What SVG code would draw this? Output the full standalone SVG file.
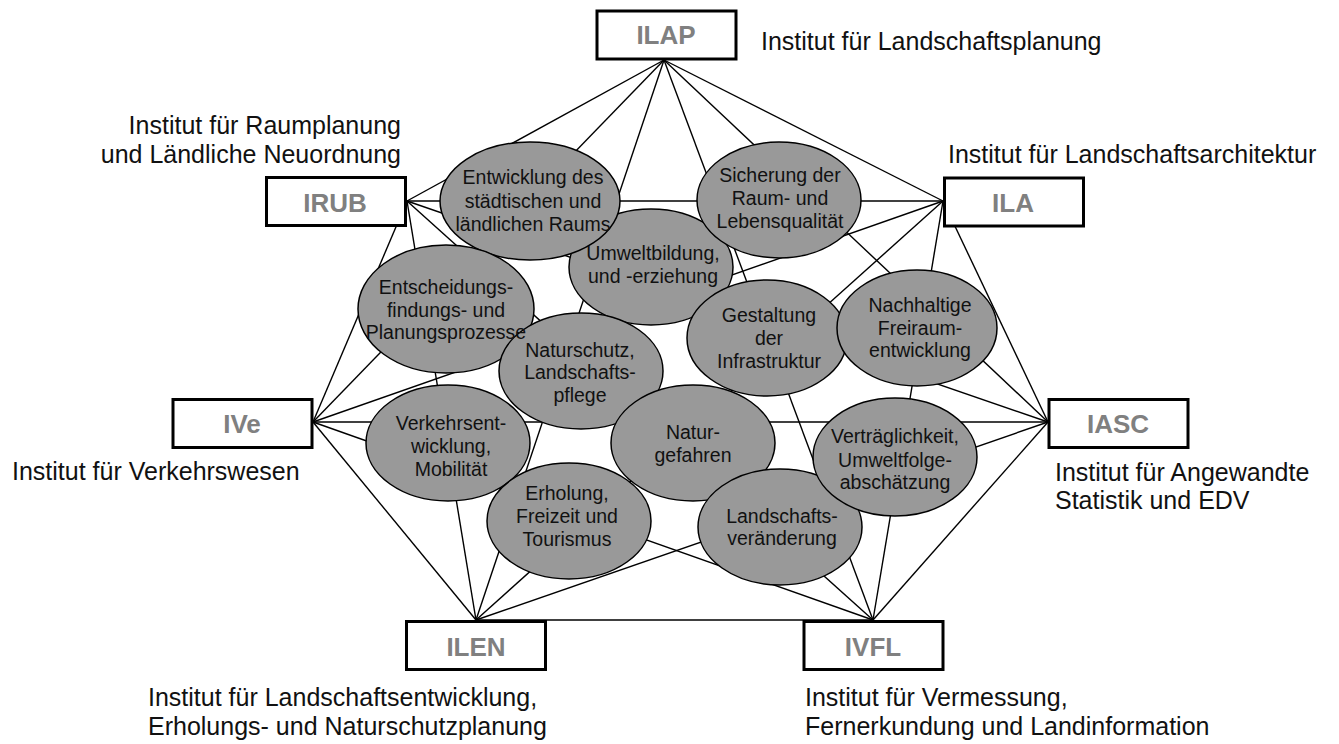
<svg xmlns="http://www.w3.org/2000/svg" width="1339" height="744" viewBox="0 0 1339 744">
<style>
.bg{fill:#ffffff}
.ln{stroke:#000;stroke-width:1.4;fill:none}
.el{fill:#999999;stroke:#000;stroke-width:1.5}
.et{font-family:"Liberation Sans",Arial,sans-serif;font-size:19.5px;fill:#111;text-anchor:middle}
.box{fill:#fff;stroke:#000;stroke-width:3}
.bt{font-family:"Liberation Sans",Arial,sans-serif;font-size:26px;font-weight:bold;fill:#808080;text-anchor:middle}
.lb{font-family:"Liberation Sans",Arial,sans-serif;font-size:25px;fill:#111}
</style>
<rect class="bg" x="0" y="0" width="1339" height="744"/>
<g id="connectors">
<line class="ln" x1="664" y1="60" x2="407" y2="201"/>
<line class="ln" x1="664" y1="60" x2="943" y2="201"/>
<line class="ln" x1="664" y1="60" x2="313" y2="422"/>
<line class="ln" x1="664" y1="60" x2="1048" y2="422"/>
<line class="ln" x1="664" y1="60" x2="476" y2="620"/>
<line class="ln" x1="664" y1="60" x2="873" y2="620"/>
<line class="ln" x1="407" y1="201" x2="943" y2="201"/>
<line class="ln" x1="407" y1="201" x2="313" y2="422"/>
<line class="ln" x1="407" y1="201" x2="1048" y2="422"/>
<line class="ln" x1="407" y1="201" x2="476" y2="620"/>
<line class="ln" x1="407" y1="201" x2="873" y2="620"/>
<line class="ln" x1="943" y1="201" x2="313" y2="422"/>
<line class="ln" x1="943" y1="201" x2="1048" y2="422"/>
<line class="ln" x1="943" y1="201" x2="476" y2="620"/>
<line class="ln" x1="943" y1="201" x2="873" y2="620"/>
<line class="ln" x1="313" y1="422" x2="1048" y2="422"/>
<line class="ln" x1="313" y1="422" x2="476" y2="620"/>
<line class="ln" x1="313" y1="422" x2="873" y2="620"/>
<line class="ln" x1="1048" y1="422" x2="476" y2="620"/>
<line class="ln" x1="1048" y1="422" x2="873" y2="620"/>
<line class="ln" x1="476" y1="620" x2="873" y2="620"/>
</g>
<g id="topics">
<ellipse class="el" cx="651" cy="267" rx="82" ry="58"/>
<ellipse class="el" cx="530" cy="201" rx="90" ry="59"/>
<ellipse class="el" cx="779" cy="200" rx="82" ry="58"/>
<ellipse class="el" cx="767" cy="338" rx="80" ry="58"/>
<ellipse class="el" cx="917" cy="328" rx="80" ry="58"/>
<ellipse class="el" cx="446" cy="309" rx="88" ry="64"/>
<ellipse class="el" cx="581" cy="371" rx="82" ry="58"/>
<ellipse class="el" cx="448" cy="443" rx="82" ry="58"/>
<ellipse class="el" cx="693" cy="443" rx="82" ry="58"/>
<ellipse class="el" cx="569" cy="521" rx="82" ry="58"/>
<ellipse class="el" cx="780" cy="527" rx="82" ry="58"/>
<ellipse class="el" cx="895" cy="457" rx="82" ry="59"/>
</g>
<g id="topic-labels">
<text class="et" x="533" y="184">Entwicklung des</text>
<text class="et" x="533" y="208">städtischen und</text>
<text class="et" x="533" y="231">ländlichen Raums</text>
<text class="et" x="780" y="182">Sicherung der</text>
<text class="et" x="780" y="205">Raum- und</text>
<text class="et" x="780" y="228">Lebensqualität</text>
<text class="et" x="653" y="260">Umweltbildung,</text>
<text class="et" x="653" y="283">und -erziehung</text>
<text class="et" x="769" y="322">Gestaltung</text>
<text class="et" x="769" y="345">der</text>
<text class="et" x="769" y="368">Infrastruktur</text>
<text class="et" x="920" y="312">Nachhaltige</text>
<text class="et" x="920" y="335">Freiraum-</text>
<text class="et" x="920" y="357">entwicklung</text>
<text class="et" x="446" y="294">Entscheidungs-</text>
<text class="et" x="446" y="317">findungs- und</text>
<text class="et" x="446" y="339">Planungsprozesse</text>
<text class="et" x="580" y="357">Naturschutz,</text>
<text class="et" x="580" y="379">Landschafts-</text>
<text class="et" x="580" y="402">pflege</text>
<text class="et" x="451" y="430">Verkehrsent-</text>
<text class="et" x="451" y="453">wicklung,</text>
<text class="et" x="451" y="476">Mobilität</text>
<text class="et" x="693" y="439">Natur-</text>
<text class="et" x="693" y="462">gefahren</text>
<text class="et" x="567" y="500">Erholung,</text>
<text class="et" x="567" y="523">Freizeit und</text>
<text class="et" x="567" y="546">Tourismus</text>
<text class="et" x="782" y="523">Landschafts-</text>
<text class="et" x="782" y="545">veränderung</text>
<text class="et" x="895" y="443">Verträglichkeit,</text>
<text class="et" x="895" y="467">Umweltfolge-</text>
<text class="et" x="895" y="489">abschätzung</text>
</g>
<g id="ILAP">
<rect class="box" x="597" y="11" width="139" height="48"/>
<text class="bt" x="666" y="44">ILAP</text>
<text class="lb" x="761" y="50">Institut für Landschaftsplanung</text>
</g>
<g id="IRUB">
<rect class="box" x="266.5" y="177.5" width="139" height="48"/>
<text class="bt" x="335" y="212">IRUB</text>
<text class="lb" x="401" y="134" text-anchor="end">Institut für Raumplanung</text>
<text class="lb" x="401" y="163" text-anchor="end">und Ländliche Neuordnung</text>
</g>
<g id="ILA">
<rect class="box" x="944.5" y="178" width="139" height="48"/>
<text class="bt" x="1013" y="212">ILA</text>
<text class="lb" x="948" y="163">Institut für Landschaftsarchitektur</text>
</g>
<g id="IVe">
<rect class="box" x="173" y="399.5" width="139" height="48"/>
<text class="bt" x="242" y="433">IVe</text>
<text class="lb" x="12" y="480">Institut für Verkehrswesen</text>
</g>
<g id="IASC">
<rect class="box" x="1049" y="399.5" width="139" height="48"/>
<text class="bt" x="1118" y="433">IASC</text>
<text class="lb" x="1055" y="481">Institut für Angewandte</text>
<text class="lb" x="1055" y="509">Statistik und EDV</text>
</g>
<g id="ILEN">
<rect class="box" x="406.5" y="621.5" width="139" height="48"/>
<text class="bt" x="476" y="656">ILEN</text>
<text class="lb" x="148" y="706">Institut für Landschaftsentwicklung,</text>
<text class="lb" x="148" y="735">Erholungs- und Naturschutzplanung</text>
</g>
<g id="IVFL">
<rect class="box" x="804" y="621.5" width="139" height="48"/>
<text class="bt" x="873" y="656">IVFL</text>
<text class="lb" x="805" y="706">Institut für Vermessung,</text>
<text class="lb" x="805" y="735">Fernerkundung und Landinformation</text>
</g>
</svg>
